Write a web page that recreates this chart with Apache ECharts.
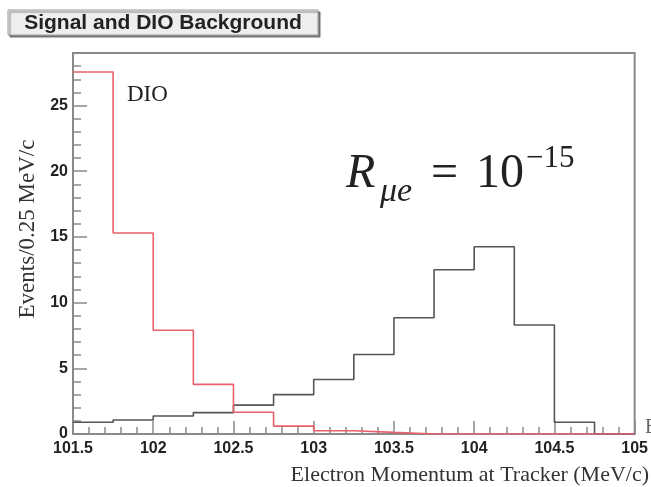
<!DOCTYPE html>
<html>
<head>
<meta charset="utf-8">
<script src="https://cdn.jsdelivr.net/npm/echarts@6/dist/echarts.min.js"></script>
<style>
  html, body { margin: 0; padding: 0; background: #fff; }
  #chart { width: 651px; height: 487px; }
</style>
</head>
<body>
<div id="chart"></div>
<script>
// bin edges (MeV/c), 0.25 MeV/c wide
const binLow = [101.5, 101.75, 102, 102.25, 102.5, 102.75, 103, 103.25, 103.5, 103.75, 104, 104.25, 104.5, 104.75]
const binHigh = 105
// DIO background (red) and signal (black), events per bin
const dioCounts = [27.55, 15.3, 7.9, 3.78, 1.65, 0.6, 0.25, 0.12, 0, 0, 0, 0, 0, 0]
const signalCounts = [0.89, 1.06, 1.37, 1.63, 2.2, 3.0, 4.15, 6.05, 8.85, 12.5, 14.25, 8.3, 0.89, 0]
// tick labels
const xTicks = [101.5, 102, 102.5, 103, 103.5, 104, 104.5, 105]
const yTicks = [0, 5, 10, 15, 20, 25]

const labelFont = { fontFamily: 'Liberation Sans, Arial, sans-serif', fontWeight: 'bold', fontSize: 16, color: '#222' }
const serif = 'Liberation Serif, Times New Roman, serif'

// histogram outline: one point per bin low edge, plus the closing edge
function histo (counts) {
  let pts = binLow.map((x, i) => [x, counts[i]])
  pts.push([binHigh, counts[counts.length - 1]])
  return pts
}

let minorY = []
for (let v = 0; v <= 29; v++) minorY.push(v)

let myChart = echarts.init(document.getElementById('chart'), null, { renderer: 'canvas' })
myChart.setOption({
  animation: false,
  backgroundColor: '#fff',
  grid: {
    left: 73,
    right: 16,
    top: 53,
    bottom: 53,
    show: true,
    borderColor: '#8a8a8a',
    borderWidth: 2
  },
  xAxis: {
    type: 'value',
    min: 101.5,
    max: 105,
    interval: 0.5,
    axisLine: { show: true, lineStyle: { color: '#8a8a8a', width: 2 } },
    axisTick: { inside: true, length: 13, lineStyle: { color: '#8a8a8a', width: 1.5 } },
    minorTick: { show: true, splitNumber: 5, length: 7, lineStyle: { color: '#8a8a8a', width: 1.5 } },
    axisLabel: Object.assign({ margin: 7, formatter: (v) => xTicks.includes(+v) ? String(+v) : '' }, labelFont),
    splitLine: { show: false },
    minorSplitLine: { show: false }
  },
  yAxis: [{
    type: 'value',
    min: 0,
    max: 29,
    interval: 5,
    position: 'left',
    axisLine: { show: true, lineStyle: { color: '#8a8a8a', width: 2 } },
    axisTick: { inside: true, length: 14, customValues: yTicks, lineStyle: { color: '#8a8a8a', width: 1.5 } },
    axisLabel: Object.assign({ margin: 5, customValues: yTicks }, labelFont),
    splitLine: { show: false }
  }, {
    type: 'value',
    min: 0,
    max: 29,
    interval: 1,
    position: 'left',
    offset: 0,
    axisLine: { show: false },
    axisTick: { inside: true, length: 8, customValues: minorY, lineStyle: { color: '#8a8a8a', width: 1.5 } },
    axisLabel: { show: false },
    splitLine: { show: false }
  }],
  series: [{
    name: 'Signal',
    type: 'line',
    step: 'end',
    symbol: 'none',
    yAxisIndex: 0,
    data: histo(signalCounts),
    lineStyle: { color: '#555', width: 1.6 },
    z: 3
  }, {
    name: 'DIO',
    type: 'line',
    step: 'end',
    symbol: 'none',
    yAxisIndex: 0,
    data: histo(dioCounts),
    lineStyle: { color: '#e8606c', width: 1.6 },
    z: 4
  }],
  graphic: [
    // title box
    {
      type: 'rect',
      shape: { x: 8, y: 10, width: 310, height: 25 },
      style: { fill: '#eeeeee', stroke: '#9a9a9a', lineWidth: 1, shadowColor: 'rgba(0,0,0,0.45)', shadowOffsetX: 2, shadowOffsetY: 2, shadowBlur: 1 }
    },
    {
      type: 'text',
      x: 163, y: 23,
      style: { text: 'Signal and DIO Background', font: 'bold 21px Liberation Sans, Arial, sans-serif', fill: '#222', align: 'center', verticalAlign: 'middle' }
    },
    // axis titles
    {
      type: 'text',
      x: 28, y: 229,
      rotation: Math.PI / 2,
      style: { text: 'Events/0.25 MeV/c', font: '23px ' + serif, fill: '#333', align: 'center', verticalAlign: 'middle' }
    },
    {
      type: 'text',
      x: 649, y: 475,
      style: { text: 'Electron Momentum at Tracker (MeV/c)', font: '22px ' + serif, fill: '#333', align: 'right', verticalAlign: 'middle' }
    },
    {
      type: 'text',
      x: 645, y: 428,
      style: { text: 'E', font: '20px ' + serif, fill: '#666', align: 'left', verticalAlign: 'middle' }
    },
    // legend text
    {
      type: 'text',
      x: 127, y: 95,
      style: { text: 'DIO', font: '23px ' + serif, fill: '#222', align: 'left', verticalAlign: 'middle' }
    },
    // R_mu e = 10^-15
    {
      type: 'text',
      x: 346, y: 150,
      style: { text: 'R', font: 'italic 48px ' + serif, fill: '#222', align: 'left' }
    },
    {
      type: 'text',
      x: 380, y: 175,
      style: { text: 'μe', font: 'italic 34px ' + serif, fill: '#222', align: 'left' }
    },
    {
      type: 'text',
      x: 431, y: 150,
      style: { text: '=', font: '48px ' + serif, fill: '#222', align: 'left' }
    },
    {
      type: 'text',
      x: 476, y: 150,
      style: { text: '10', font: '48px ' + serif, fill: '#222', align: 'left' }
    },
    {
      type: 'text',
      x: 526, y: 143,
      style: { text: '−15', font: '31px ' + serif, fill: '#222', align: 'left' }
    }
  ]
})
</script>
</body>
</html>
